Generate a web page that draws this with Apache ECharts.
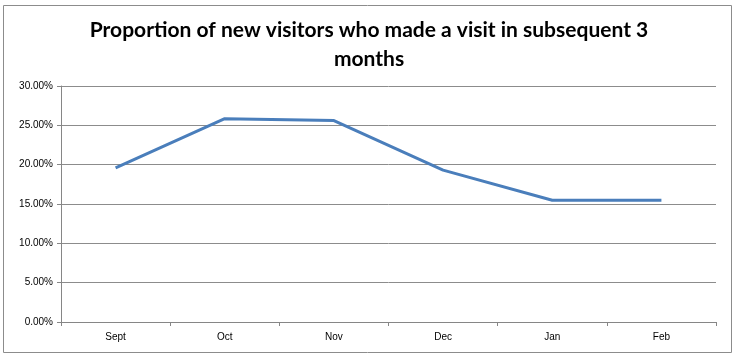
<!DOCTYPE html>
<html><head><meta charset="utf-8">
<script src="https://cdn.jsdelivr.net/npm/echarts@6/dist/echarts.min.js"></script>
<style>html,body{margin:0;padding:0;background:#fff}#c{width:738px;height:359px}</style>
</head><body><div id="c"></div>
<script>
var categories = ['Sept', 'Oct', 'Nov', 'Dec', 'Jan', 'Feb'];
var proportion = [0.1958, 0.2585, 0.2560, 0.1930, 0.1547, 0.1547];
var yTicks = [0, 0.05, 0.10, 0.15, 0.20, 0.25, 0.30];

var chart = echarts.init(document.getElementById('c'));
chart.setOption({
  animation: false,
  title: {
    text: 'Proportion of new visitors who made a visit in subsequent 3\nmonths',
    left: 'center', top: 11,
    textStyle: {fontFamily: 'Lato', fontWeight: 'bold', fontSize: 21, color: '#000', lineHeight: 29}
  },
  graphic: [{type: 'rect', shape: {x: 3.5, y: 5.5, width: 728, height: 347}, style: {fill: 'none', stroke: '#8c8c8c', lineWidth: 1}, silent: true}],
  grid: {left: 61, right: 22, top: 86, bottom: 37, containLabel: false},
  xAxis: {
    type: 'category', data: categories, boundaryGap: true,
    axisLine: {lineStyle: {color: '#868686', width: 1}},
    axisTick: {show: true, length: 4, lineStyle: {color: '#868686'}},
    axisLabel: {color: '#000', fontFamily: 'Liberation Sans', fontSize: 10, margin: 10}
  },
  yAxis: {
    type: 'value', min: 0, max: 0.30, interval: 0.05,
    axisLine: {show: true, lineStyle: {color: '#868686', width: 1}},
    axisTick: {show: true, length: 4, inside: false, lineStyle: {color: '#868686'}},
    splitLine: {lineStyle: {color: '#8c8c8c', width: 1}},
    axisLabel: {color: '#000', fontFamily: 'Liberation Sans', fontSize: 10, margin: 8,
      formatter: function (v) { return (v * 100).toFixed(2) + '%'; }}
  },
  series: [{
    type: 'line', data: proportion, symbol: 'none',
    lineStyle: {color: '#4a7ebb', width: 3}
  }]
});
</script></body></html>
